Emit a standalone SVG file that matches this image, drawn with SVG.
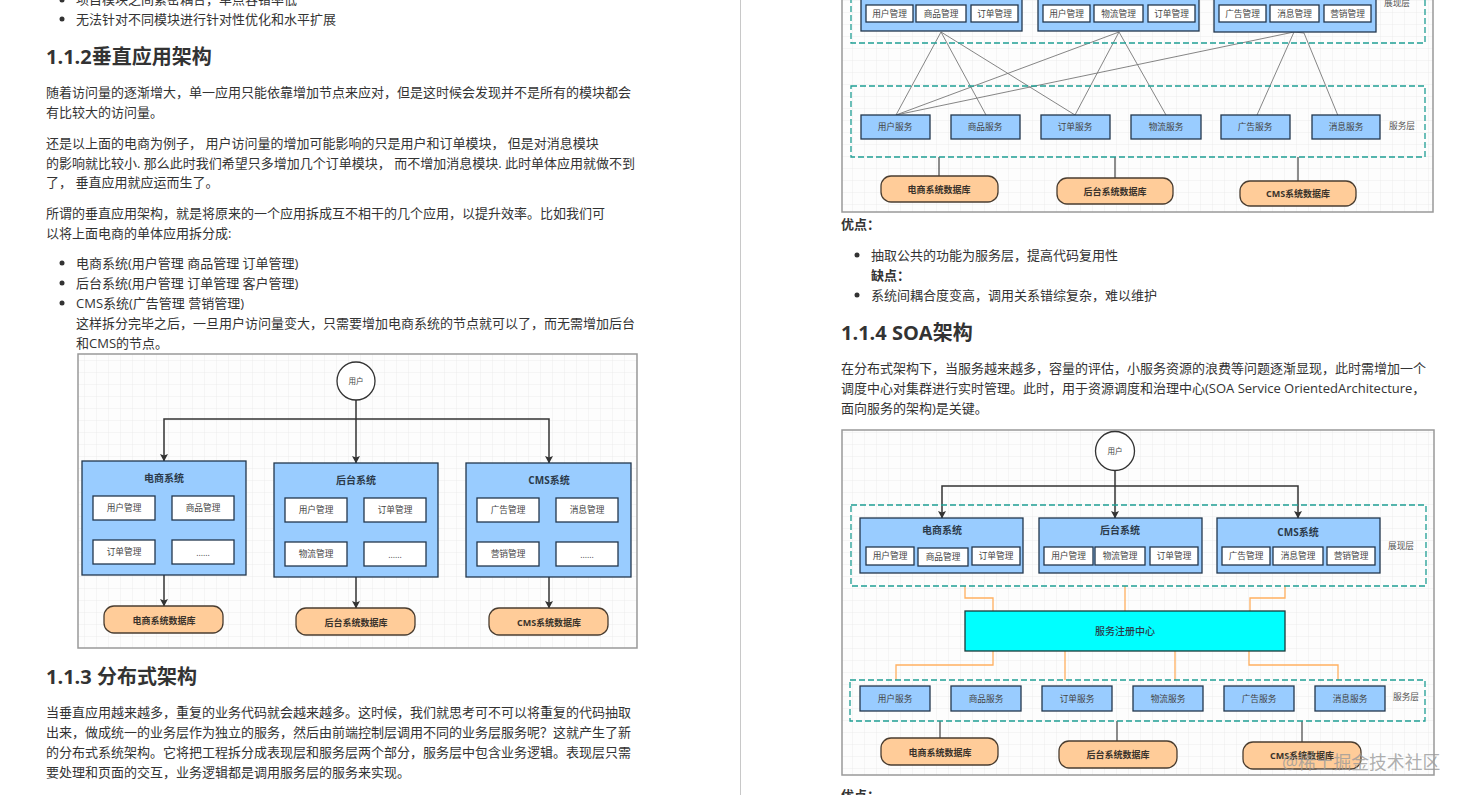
<svg xmlns="http://www.w3.org/2000/svg" width="1464" height="795" viewBox="0 0 1464 795">
<style>
text{font-family:"Open Sans","Noto Sans CJK SC",sans-serif;fill:#333}
.p{font-size:13px}
.h{font-size:20px;font-weight:700}
.b{font-size:13px;font-weight:700}
.dot{fill:#333}
.frame{fill:url(#grid);stroke:#999;stroke-width:1.5}
.sys{fill:#99ccff;stroke:#23374d;stroke-width:1.3}
.in{fill:#fff;stroke:#23374d;stroke-width:1.3}
.db{fill:#ffcc99;stroke:#4a3d30;stroke-width:1.3}
.dash{fill:none;stroke:#1f9e94;stroke-width:1.3;stroke-dasharray:6 3}
.c text,text.c{text-anchor:middle;dominant-baseline:central}
.s{font-size:8.7px;fill:#444}
.t{font-size:10px;font-weight:700;fill:#2b3a4a}
.d{font-size:9px;font-weight:700;fill:#3a332b}
.l{font-size:8.7px;fill:#555}
.blk{fill:none;stroke:#333;stroke-width:1.5}
.gry{fill:none;stroke:#777;stroke-width:.9}
.stub{fill:none;stroke:#444;stroke-width:1.2}
.org{fill:none;stroke:#ffb060;stroke-width:1.3}
</style>
<defs>
<pattern id="grid" width="12" height="12" patternUnits="userSpaceOnUse"><rect width="12" height="12" fill="#fdfdfd"/><path d="M12 0H0V12" fill="none" stroke="#e8e8e8" stroke-width=".8"/></pattern>
<marker id="a" markerWidth="8" markerHeight="9" refX="7" refY="4" orient="auto" markerUnits="userSpaceOnUse"><path d="M0 0L7.500 4L0 8L1.500 4Z" fill="#333"/></marker>
</defs>
<rect width="1464" height="795" fill="#fff"/>
<path d="M740.500 0V795" stroke="#c8c8c8" fill="none"/>

<g id="page-left">
<circle class="dot" cx="62" cy="0" r="2.500"/><text class="p" x="76" y="4">项目模块之间紧密耦合，单点容错率低</text>
<circle class="dot" cx="62" cy="19" r="2.500"/><text class="p" x="76" y="24">无法针对不同模块进行针对性优化和水平扩展</text>
<text class="h" x="46" y="64">1.1.2垂直应用架构</text>
<text class="p" x="46" y="97">随着访问量的逐渐增大，单一应用只能依靠增加节点来应对，但是这时候会发现并不是所有的模块都会</text>
<text class="p" x="46" y="117">有比较大的访问量。</text>
<text class="p" x="46" y="148">还是以上面的电商为例子， 用户访问量的增加可能影响的只是用户和订单模块， 但是对消息模块</text>
<text class="p" x="46" y="168">的影响就比较小. 那么此时我们希望只多增加几个订单模块， 而不增加消息模块. 此时单体应用就做不到</text>
<text class="p" x="46" y="187">了， 垂直应用就应运而生了。</text>
<text class="p" x="46" y="218">所谓的垂直应用架构，就是将原来的一个应用拆成互不相干的几个应用，以提升效率。比如我们可</text>
<text class="p" x="46" y="238">以将上面电商的单体应用拆分成:</text>
<circle class="dot" cx="62" cy="263" r="2.500"/><text class="p" x="76" y="268">电商系统(用户管理 商品管理 订单管理)</text>
<circle class="dot" cx="62" cy="283" r="2.500"/><text class="p" x="76" y="288">后台系统(用户管理 订单管理 客户管理)</text>
<circle class="dot" cx="62" cy="303" r="2.500"/><text class="p" x="76" y="308">CMS系统(广告管理 营销管理)</text>
<text class="p" x="76" y="328">这样拆分完毕之后，一旦用户访问量变大，只需要增加电商系统的节点就可以了，而无需增加后台</text>
<text class="p" x="76" y="348">和CMS的节点。</text>
<text class="h" x="46" y="684">1.1.3 分布式架构</text>
<text class="p" x="46" y="717">当垂直应用越来越多，重复的业务代码就会越来越多。这时候，我们就思考可不可以将重复的代码抽取</text>
<text class="p" x="46" y="737">出来，做成统一的业务层作为独立的服务，然后由前端控制层调用不同的业务层服务呢？这就产生了新</text>
<text class="p" x="46" y="757">的分布式系统架构。它将把工程拆分成表现层和服务层两个部分，服务层中包含业务逻辑。表现层只需</text>
<text class="p" x="46" y="777">要处理和页面的交互，业务逻辑都是调用服务层的服务来实现。</text>
</g>

<g id="page-right">
<text class="b" x="841" y="229">优点：</text>
<circle class="dot" cx="857" cy="255" r="2.500"/><text class="p" x="871" y="260">抽取公共的功能为服务层，提高代码复用性</text>
<text class="b" x="871" y="280">缺点：</text>
<circle class="dot" cx="857" cy="295" r="2.500"/><text class="p" x="871" y="300">系统间耦合度变高，调用关系错综复杂，难以维护</text>
<text class="h" x="841" y="340">1.1.4 SOA架构</text>
<text class="p" x="841" y="373">在分布式架构下，当服务越来越多，容量的评估，小服务资源的浪费等问题逐渐显现，此时需增加一个</text>
<text class="p" x="841" y="393">调度中心对集群进行实时管理。此时，用于资源调度和治理中心(SOA Service OrientedArchitecture，</text>
<text class="p" x="841" y="413">面向服务的架构)是关键。</text>
<text class="b" x="841" y="800">优点：</text>
</g>

<g id="d1-frame"><rect class="frame" x="78" y="354" width="559" height="294"/></g>
<g id="d2-frame"><rect class="frame" x="842" y="-20" width="591" height="232"/></g>
<g id="d3-frame"><rect class="frame" x="842" y="430" width="592" height="345"/></g>

<g id="connectors">
<path class="blk" d="M356 400V463" marker-end="url(#a)"/>
<path class="blk" d="M356 419H164V461" marker-end="url(#a)"/>
<path class="blk" d="M356 419H549V463" marker-end="url(#a)"/>
<path class="blk" d="M164 575V606" marker-end="url(#a)"/>
<path class="blk" d="M356 577V608" marker-end="url(#a)"/>
<path class="blk" d="M549 577V608" marker-end="url(#a)"/>
<path class="gry" d="M941 32L896 115M941 32L986 115M941 32L1075 115"/>
<path class="gry" d="M1119 32L896 115M1119 32L1075 115M1119 32L1166 115"/>
<path class="gry" d="M1294 32L896 115M1294 32L1257 115M1294 32L1304 33L1341 123"/>
<path class="stub" d="M939 157V176M1115 157V178M1298 157V181"/>
<path class="blk" d="M1115 471V518" marker-end="url(#a)"/>
<path class="blk" d="M1115 486H942V518" marker-end="url(#a)"/>
<path class="blk" d="M1115 486H1298V518" marker-end="url(#a)"/>
<path class="org" d="M965 586V598H993V611M1125 586V611M1285 586V598H1250V611"/>
<path class="org" d="M993 651V665H896V680M1065 651V680M1175 651V680M1249 651V665H1338V680"/>
<path class="stub" d="M940 721V738M1117 721V741M1302 721V742"/>
</g>

<g id="d1-user" class="c"><circle cx="356" cy="381" r="19" fill="#fff" stroke="#333" stroke-width="1.300"/><text class="s" x="356" y="381" style="font-size:7.500px">用户</text></g>
<g id="d1-shop" class="c"><rect class="sys" x="82" y="461" width="164" height="114"/><text class="t" x="164" y="478">电商系统</text>
<rect class="in" x="93" y="496" width="62" height="24"/><text class="s" x="124" y="508">用户管理</text>
<rect class="in" x="172" y="496" width="62" height="24"/><text class="s" x="203" y="508">商品管理</text>
<rect class="in" x="93" y="540" width="62" height="24"/><text class="s" x="124" y="552">订单管理</text>
<rect class="in" x="172" y="540" width="62" height="24"/><text class="s" x="203" y="553">......</text></g>
<g id="d1-admin" class="c"><rect class="sys" x="274" y="463" width="164" height="114"/><text class="t" x="356" y="480">后台系统</text>
<rect class="in" x="285" y="498" width="62" height="24"/><text class="s" x="316" y="510">用户管理</text>
<rect class="in" x="364" y="498" width="62" height="24"/><text class="s" x="395" y="510">订单管理</text>
<rect class="in" x="285" y="542" width="62" height="24"/><text class="s" x="316" y="554">物流管理</text>
<rect class="in" x="364" y="542" width="62" height="24"/><text class="s" x="395" y="555">......</text></g>
<g id="d1-cms" class="c"><rect class="sys" x="466" y="463" width="165" height="114"/><text class="t" x="549" y="480">CMS系统</text>
<rect class="in" x="477" y="498" width="62" height="24"/><text class="s" x="508" y="510">广告管理</text>
<rect class="in" x="556" y="498" width="62" height="24"/><text class="s" x="587" y="510">消息管理</text>
<rect class="in" x="477" y="542" width="62" height="24"/><text class="s" x="508" y="554">营销管理</text>
<rect class="in" x="556" y="542" width="62" height="24"/><text class="s" x="587" y="555">......</text></g>
<g id="d1-db1" class="c"><rect class="db" x="104" y="606" width="119" height="27" rx="10"/><text class="d" x="164" y="620">电商系统数据库</text></g>
<g id="d1-db2" class="c"><rect class="db" x="296" y="608" width="119" height="27" rx="10"/><text class="d" x="356" y="622">后台系统数据库</text></g>
<g id="d1-db3" class="c"><rect class="db" x="489" y="608" width="119" height="27" rx="10"/><text class="d" x="549" y="622">CMS系统数据库</text></g>

<g id="d2-layer-view" class="c"><rect class="dash" x="851" y="-20" width="574" height="63"/><text class="l" x="1397" y="3">展现层</text></g>
<g id="d2-shop" class="c"><rect class="sys" x="861" y="-30" width="161" height="61"/>
<rect class="in" x="866" y="5" width="47" height="17"/><text class="s" x="889.500" y="14">用户管理</text>
<rect class="in" x="916" y="5" width="50" height="17"/><text class="s" x="941" y="14">商品管理</text>
<rect class="in" x="971" y="5" width="47" height="17"/><text class="s" x="994.500" y="14">订单管理</text></g>
<g id="d2-admin" class="c"><rect class="sys" x="1038" y="-30" width="161" height="61"/>
<rect class="in" x="1043" y="5" width="47" height="17"/><text class="s" x="1066.500" y="14">用户管理</text>
<rect class="in" x="1094" y="5" width="49" height="17"/><text class="s" x="1118.500" y="14">物流管理</text>
<rect class="in" x="1148" y="5" width="47" height="17"/><text class="s" x="1171.500" y="14">订单管理</text></g>
<g id="d2-cms" class="c"><rect class="sys" x="1214" y="-30" width="162" height="62"/>
<rect class="in" x="1219" y="5" width="47" height="17"/><text class="s" x="1242.500" y="14">广告管理</text>
<rect class="in" x="1270" y="5" width="49" height="17"/><text class="s" x="1294.500" y="14">消息管理</text>
<rect class="in" x="1324" y="5" width="47" height="17"/><text class="s" x="1347.500" y="14">营销管理</text></g>
<g id="d2-layer-svc" class="c"><rect class="dash" x="851" y="86" width="574" height="71"/><text class="l" x="1402" y="126">服务层</text></g>
<g id="d2-s1" class="c"><rect class="sys" x="861" y="115" width="69" height="24"/><text class="s" x="895" y="127">用户服务</text></g>
<g id="d2-s2" class="c"><rect class="sys" x="951" y="115" width="69" height="24"/><text class="s" x="985" y="127">商品服务</text></g>
<g id="d2-s3" class="c"><rect class="sys" x="1041" y="115" width="69" height="24"/><text class="s" x="1075" y="127">订单服务</text></g>
<g id="d2-s4" class="c"><rect class="sys" x="1131" y="115" width="70" height="24"/><text class="s" x="1166" y="127">物流服务</text></g>
<g id="d2-s5" class="c"><rect class="sys" x="1221" y="115" width="69" height="24"/><text class="s" x="1255" y="127">广告服务</text></g>
<g id="d2-s6" class="c"><rect class="sys" x="1312" y="115" width="68" height="24"/><text class="s" x="1346" y="127">消息服务</text></g>
<g id="d2-db1" class="c"><rect class="db" x="881" y="176" width="117" height="26" rx="10"/><text class="d" x="939" y="189">电商系统数据库</text></g>
<g id="d2-db2" class="c"><rect class="db" x="1057" y="178" width="116" height="26" rx="10"/><text class="d" x="1115" y="191">后台系统数据库</text></g>
<g id="d2-db3" class="c"><rect class="db" x="1240" y="181" width="116" height="25" rx="10"/><text class="d" x="1298" y="193">CMS系统数据库</text></g>

<g id="d3-user" class="c"><ellipse cx="1115" cy="451" rx="19.500" ry="19.500" fill="#fff" stroke="#333" stroke-width="1.300"/><text class="s" x="1115" y="451" style="font-size:7.500px">用户</text></g>
<g id="d3-layer-view" class="c"><rect class="dash" x="851" y="505" width="575" height="81"/><text class="l" x="1401" y="546">展现层</text></g>
<g id="d3-shop" class="c"><rect class="sys" x="860" y="518" width="163" height="55"/><text class="t" x="942" y="530">电商系统</text>
<rect class="in" x="866" y="547" width="48" height="18"/><text class="s" x="890" y="556">用户管理</text>
<rect class="in" x="918" y="548" width="50" height="18"/><text class="s" x="943" y="557">商品管理</text>
<rect class="in" x="972" y="547" width="48" height="18"/><text class="s" x="996" y="556">订单管理</text></g>
<g id="d3-admin" class="c"><rect class="sys" x="1039" y="518" width="163" height="55"/><text class="t" x="1120" y="530">后台系统</text>
<rect class="in" x="1044" y="547" width="49" height="18"/><text class="s" x="1068.500" y="556">用户管理</text>
<rect class="in" x="1095" y="547" width="50" height="18"/><text class="s" x="1120" y="556">物流管理</text>
<rect class="in" x="1150" y="547" width="48" height="18"/><text class="s" x="1174" y="556">订单管理</text></g>
<g id="d3-cms" class="c"><rect class="sys" x="1217" y="518" width="163" height="55"/><text class="t" x="1298" y="532">CMS系统</text>
<rect class="in" x="1222" y="547" width="48" height="18"/><text class="s" x="1246" y="556">广告管理</text>
<rect class="in" x="1273" y="547" width="50" height="18"/><text class="s" x="1298" y="556">消息管理</text>
<rect class="in" x="1327" y="547" width="48" height="18"/><text class="s" x="1351" y="556">营销管理</text></g>
<g id="d3-registry" class="c"><rect x="965" y="611" width="320" height="40" fill="#00ffff" stroke="#1a3a3a" stroke-width="1.300"/><text class="t" x="1125" y="631" style="font-weight:500">服务注册中心</text></g>
<g id="d3-layer-svc" class="c"><rect class="dash" x="850" y="680" width="575" height="41"/><text class="l" x="1406" y="697">服务层</text></g>
<g id="d3-s1" class="c"><rect class="sys" x="860" y="686" width="70" height="25"/><text class="s" x="895" y="699">用户服务</text></g>
<g id="d3-s2" class="c"><rect class="sys" x="951" y="686" width="70" height="25"/><text class="s" x="986" y="699">商品服务</text></g>
<g id="d3-s3" class="c"><rect class="sys" x="1042" y="686" width="70" height="25"/><text class="s" x="1077" y="699">订单服务</text></g>
<g id="d3-s4" class="c"><rect class="sys" x="1133" y="686" width="70" height="25"/><text class="s" x="1168" y="699">物流服务</text></g>
<g id="d3-s5" class="c"><rect class="sys" x="1224" y="686" width="70" height="25"/><text class="s" x="1259" y="699">广告服务</text></g>
<g id="d3-s6" class="c"><rect class="sys" x="1315" y="686" width="70" height="25"/><text class="s" x="1350" y="699">消息服务</text></g>
<g id="d3-db1" class="c"><rect class="db" x="881" y="738" width="117" height="27" rx="10"/><text class="d" x="940" y="752">电商系统数据库</text></g>
<g id="d3-db2" class="c"><rect class="db" x="1059" y="741" width="118" height="27" rx="10"/><text class="d" x="1118" y="754">后台系统数据库</text></g>
<g id="d3-db3" class="c"><rect class="db" x="1243" y="742" width="118" height="27" rx="10"/><text class="d" x="1302" y="755">CMS系统数据库</text></g>

<text x="1282" y="769" style="font-size:17.800px;fill:#9a9a9a;fill-opacity:.8">@稀土掘金技术社区</text>
</svg>
